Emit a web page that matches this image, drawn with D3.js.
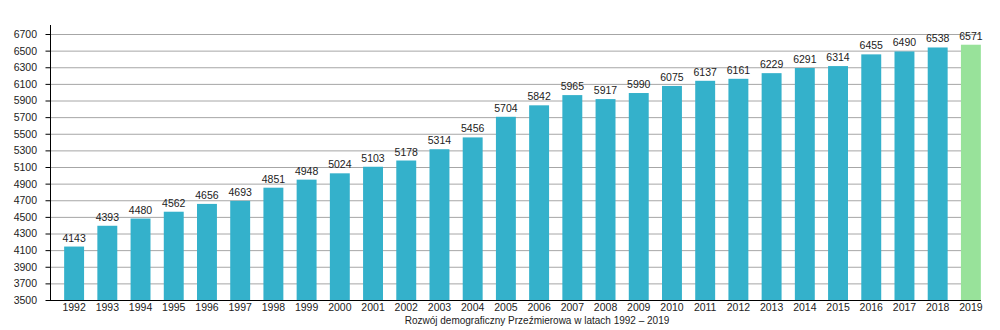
<!DOCTYPE html>
<html><head><meta charset="utf-8">
<script src="https://cdn.jsdelivr.net/npm/d3@7"></script>
<style>body{margin:0;background:#fff}svg{display:block}text{font-family:"Liberation Sans",Arial,sans-serif;fill:#222}</style>
</head><body>
<svg id="c" width="1000" height="330"></svg>
<script>
const years = [1992,1993,1994,1995,1996,1997,1998,1999,2000,2001,2002,2003,2004,2005,2006,2007,2008,2009,2010,2011,2012,2013,2014,2015,2016,2017,2018,2019];
const population = [4143,4393,4480,4562,4656,4693,4851,4948,5024,5103,5178,5314,5456,5704,5842,5965,5917,5990,6075,6137,6161,6229,6291,6314,6455,6490,6538,6571];
const yTicks = [3500,3700,3900,4100,4300,4500,4700,4900,5100,5300,5500,5700,5900,6100,6300,6500,6700];
const title = "Rozwój demograficzny Przeźmierowa w latach 1992 – 2019";

const svg = d3.select("#c");
const axX0 = 50, axX1 = 980, yBot = 300;
const FS = 10.5;
const x = d3.scaleBand().domain(years).range([57.5, 987.5]).paddingInner(0.4).paddingOuter(0.2);
const y = d3.scaleLinear().domain([3500, 6700]).range([yBot, 34]);

// gridlines
svg.append("g").selectAll("line").data(yTicks.slice(1)).join("line")
  .attr("x1", axX0).attr("x2", axX1)
  .attr("y1", d => y(d)+0.5).attr("y2", d => y(d)+0.5)
  .attr("stroke", "#a6a6a6").attr("stroke-width", 1);

// bars
svg.append("g").selectAll("rect").data(years).join("rect")
  .attr("x", d => x(d)).attr("width", x.bandwidth())
  .attr("y", (d,i) => y(population[i])).attr("height", (d,i) => yBot - y(population[i]))
  .attr("fill", (d,i) => i === years.length-1 ? "#98e29a" : "#34b1cb");

// value labels
svg.append("g").selectAll("text").data(years).join("text")
  .attr("x", d => x(d) + x.bandwidth()/2)
  .attr("y", (d,i) => y(population[i]) - 5)
  .attr("text-anchor", "middle").attr("font-size", FS)
  .text((d,i) => population[i]);

// y axis
const yAxis = d3.axisLeft(y).tickValues(yTicks).tickSize(5).tickPadding(8.5).tickFormat(d => d);
const gy = svg.append("g").attr("transform", `translate(${axX0+0.5},0)`).call(yAxis);
gy.select(".domain").remove();
gy.selectAll("line").attr("stroke", "#000");
gy.selectAll("text").attr("font-size", FS).attr("fill", "#222").style("font-family", '"Liberation Sans",Arial,sans-serif');
svg.append("line").attr("x1", axX0+0.5).attr("x2", axX0+0.5).attr("y1", 25).attr("y2", yBot+0.5).attr("stroke", "#000");

// x axis
const xAxis = d3.axisBottom(x).tickSize(0).tickPadding(4);
const gx = svg.append("g").attr("transform", `translate(0,${yBot})`).call(xAxis);
gx.select(".domain").remove();
gx.selectAll("text").attr("font-size", FS).attr("fill", "#222").style("font-family", '"Liberation Sans",Arial,sans-serif');
svg.append("line").attr("x1", axX0).attr("x2", axX1+1).attr("y1", yBot+0.5).attr("y2", yBot+0.5).attr("stroke", "#000");

// title
svg.append("text").attr("x", 537).attr("y", 323.5).attr("text-anchor", "middle").attr("font-size", 10).text(title);
</script>
</body></html>
